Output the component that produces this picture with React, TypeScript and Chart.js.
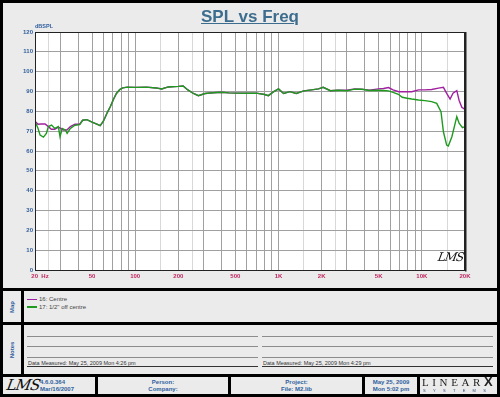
import React, { useEffect, useRef } from "react";
import { Chart, registerables } from "chart.js";
Chart.register(...registerables);

const FONT = 'Arial, "Liberation Sans", sans-serif';

// Series "16: Centre"
const centreHz = [20, 21, 22, 23.5, 24.8, 26, 27.5, 29.1, 30, 31.5, 33.4, 35.3, 38, 41, 43, 46, 50, 54, 57, 60, 64, 67, 71, 74, 78, 82, 88, 100, 120, 140, 153, 170, 200, 216, 233, 255, 276, 307, 350, 400, 450, 500, 600, 700, 800, 850, 920, 1000, 1085, 1200, 1330, 1500, 1700, 1900, 2050, 2300, 2600, 3000, 3400, 3800, 4300, 4980, 5400, 5850, 6300, 6900, 7500, 8500, 9500, 10500, 11700, 13050, 14140, 14900, 15740, 16500, 17530, 18200, 19000, 20000];
const centreDb = [75, 73.5, 73.6, 73.6, 72.3, 71, 71, 72, 71.5, 70.6, 70.6, 72.3, 73.5, 73.5, 75.5, 75.8, 74.6, 73.6, 72.8, 75, 79.5, 82.3, 86.5, 89, 91, 91.8, 92.2, 92.1, 92.2, 91.8, 91.3, 92.3, 92.6, 92.8, 90.8, 89, 87.9, 89, 89.4, 89.6, 89.3, 89.2, 89.1, 89.2, 88.5, 87.9, 89.8, 91.3, 89, 89.9, 89, 90.3, 90.8, 91.3, 92.1, 90.4, 90.6, 90.6, 91.3, 91.2, 90.7, 91.3, 91.5, 92, 90.8, 89.9, 89.9, 89.9, 90.8, 90.8, 91, 91.7, 92.1, 89.1, 86.2, 89.1, 90.4, 85.5, 82, 81];

// Series "17: 1/2" off centre"
const offHz = [20, 21, 21.7, 22.9, 24, 24.8, 26.1, 27.5, 29.1, 29.9, 31, 32.6, 33.5, 35.3, 38, 41, 43, 46, 50, 54, 57, 60, 64, 67, 71, 74, 78, 82, 88, 100, 120, 140, 153, 170, 200, 216, 233, 255, 276, 307, 350, 400, 450, 500, 600, 700, 800, 850, 920, 1000, 1085, 1200, 1330, 1500, 1700, 1900, 2050, 2300, 2600, 3000, 3400, 3800, 4300, 4980, 5400, 5850, 6300, 6860, 7300, 7900, 8500, 9460, 10500, 11700, 12700, 13600, 14140, 14900, 15300, 16200, 17530, 18200, 19200, 20000];
const offDb = [75, 71.4, 68, 67, 68.9, 72.3, 73.1, 71.4, 72.3, 67.2, 71.4, 70.6, 68.9, 71.4, 73, 73.3, 75.5, 75.8, 74.6, 73.6, 72.8, 75, 79.5, 82.3, 86.5, 89, 91, 91.8, 92.2, 92.1, 92.2, 91.8, 91.3, 92.3, 92.6, 92.8, 90.8, 89, 87.9, 89, 89.4, 89.6, 89.3, 89.2, 89.1, 89.2, 88.5, 87.9, 89.8, 91.3, 89, 89.9, 89, 90.3, 90.8, 91.3, 92.1, 90.4, 90.6, 90.4, 91.2, 91.1, 90.5, 90.6, 90.5, 90.3, 89.6, 88.6, 87.1, 86.6, 86.2, 85.7, 85.4, 84.9, 84, 79.8, 69.7, 63, 62.5, 67.2, 77.3, 74, 71.8, 72.3];

const xDecades = [10, 100, 1000, 10000];
const xMultiples = [1, 1.5, 2, 2.5, 3, 4, 5, 6, 7, 8, 9];
const xLabelValues = [20, 50, 100, 200, 500, 1000, 2000, 5000, 10000, 20000];
const xLabelTexts = ["      20  Hz", "50", "100", "200", "500", "1K", "2K", "5K", "10K", "20K"];
const yMin = 0;
const yMax = 120;
const yStep = 5;

const seriesNames = ["16: Centre", '17: 1/2" off centre'];
const seriesColors = ["#a020a0", "#1f9a1f"];

const xGridValues: number[] = [];
xDecades.forEach((d) => xMultiples.forEach((m) => {
  const v = d * m;
  if (v >= 20 && v <= 20000) xGridValues.push(v);
}));

const framePlugin = {
  id: "frame",
  beforeDraw(chart: any) {
    const { ctx, chartArea: a } = chart;
    ctx.save();
    ctx.fillStyle = "#ffffff";
    ctx.fillRect(a.left, a.top, a.right - a.left, a.bottom - a.top);
    ctx.restore();
  },
  afterDraw(chart: any) {
    const { ctx, chartArea: a } = chart;
    ctx.save();
    ctx.strokeStyle = "#222";
    ctx.lineWidth = 1;
    ctx.strokeRect(a.left + 0.5, a.top + 0.5, a.right - a.left - 1, a.bottom - a.top);
    ctx.fillStyle = "#222";
    ctx.fillRect(a.right, a.top, 1.5, a.bottom - a.top + 1.5);
    ctx.restore();
  },
};

const Small = (p: any) => <div style={{ position: "absolute", whiteSpace: "nowrap", fontSize: 6, lineHeight: "7px", ...p.style }}>{p.children}</div>;

export default function App() {
  const canvasRef = useRef<HTMLCanvasElement>(null);
  useEffect(() => {
    document.body.style.margin = "0";
    const chart = new Chart(canvasRef.current!, {
      type: "line",
      data: {
        datasets: [
          {
            label: seriesNames[0],
            data: centreHz.map((f, i) => ({ x: f, y: centreDb[i] })),
            borderColor: seriesColors[0],
            borderWidth: 1.4,
            pointRadius: 0,
            tension: 0,
            fill: false,
            order: 2,
          },
          {
            label: seriesNames[1],
            data: offHz.map((f, i) => ({ x: f, y: offDb[i] })),
            borderColor: seriesColors[1],
            borderWidth: 1.4,
            pointRadius: 0,
            tension: 0,
            fill: false,
            order: 1,
          },
        ],
      },
      options: {
        responsive: false,
        animation: false,
        events: [],
        layout: { padding: { left: 0, top: 32, right: 35, bottom: 4 } },
        plugins: { legend: { display: false }, tooltip: { enabled: false } },
        scales: {
          x: {
            type: "logarithmic",
            min: 20,
            max: 20000,
            afterBuildTicks: (s: any) => {
              s.ticks = xGridValues.map((v) => ({ value: v }));
            },
            afterFit: (s: any) => {
              s.height = 16;
            },
            ticks: {
              autoSkip: false,
              maxRotation: 0,
              minRotation: 0,
              padding: 3,
              color: "#c2245e",
              font: { family: FONT, size: 6, weight: "bold" },
              callback: (v: any) => {
                const i = xLabelValues.indexOf(Number(v));
                return i >= 0 ? xLabelTexts[i] : "";
              },
            },
            grid: {
              drawTicks: false,
              lineWidth: 1,
              color: (c: any) => {
                const v = c.tick ? c.tick.value : 0;
                const m = v / Math.pow(10, Math.floor(Math.log10(v) + 1e-9));
                return Math.abs(m - 1.5) < 1e-6 || Math.abs(m - 2.5) < 1e-6 ? "#d8d8d8" : "#a0a0a0";
              },
            },
            border: { display: true, color: "#222", width: 1 },
          },
          y: {
            type: "linear",
            min: yMin,
            max: yMax,
            afterFit: (s: any) => {
              s.width = 35;
            },
            ticks: {
              stepSize: yStep,
              padding: 2,
              color: "#2f5f9e",
              font: { family: FONT, size: 6, weight: "bold" },
              callback: (v: any) => (Number(v) % 10 === 0 ? String(v) : ""),
            },
            grid: {
              drawTicks: false,
              lineWidth: 1,
              color: (c: any) => (c.tick && c.tick.value % 10 === 0 ? "#a0a0a0" : "#e2e2e2"),
            },
            border: { display: true, color: "#222", width: 1 },
          },
        },
      },
      plugins: [framePlugin],
    } as any);
    return () => chart.destroy();
  }, []);

  const panel = (left: number, top: number, width: number, height: number, children?: any) => (
    <div style={{ position: "absolute", left, top, width, height, background: "#ebebeb", overflow: "hidden" }}>{children}</div>
  );
  const blue = "#2f5f9e";
  const vLabel = (text: string, h: number) => (
    <div style={{ position: "absolute", left: 0, top: 0, width: 18, height: h, display: "flex", alignItems: "center", justifyContent: "center" }}>
      <div style={{ transform: "rotate(-90deg)", fontSize: 6, fontWeight: "bold", color: blue, whiteSpace: "nowrap" }}>{text}</div>
    </div>
  );
  const noteCol = (left: number, width: number, text: string) => (
    <>
      <div style={{ position: "absolute", left, top: 11, width, height: 1, background: "#8c8c8c" }} />
      <div style={{ position: "absolute", left, top: 21, width, height: 1, background: "#8c8c8c" }} />
      <div style={{ position: "absolute", left, top: 32, width, height: 1, background: "#8c8c8c" }} />
      <div style={{ position: "absolute", left, top: 41, width, height: 1, background: "#333" }} />
      <Small style={{ left: left + 1, top: 35, fontSize: 5.5, lineHeight: "6px", color: "#333", textDecoration: "underline" }}>{text}</Small>
    </>
  );
  const centred = (w: number, a: string, b: string) => (
    <>
      <Small style={{ left: 0, width: w, top: 2, textAlign: "center", fontWeight: "bold", color: blue }}>{a}</Small>
      <Small style={{ left: 0, width: w, top: 9, textAlign: "center", fontWeight: "bold", color: blue }}>{b}</Small>
    </>
  );

  return (
    <div style={{ position: "fixed", left: 0, top: 0, width: 500, height: 397, background: "#000", fontFamily: FONT, overflow: "hidden" }}>
      {panel(3, 3, 494, 285)}
      <canvas ref={canvasRef} width={500} height={290} style={{ position: "absolute", left: 0, top: 0, width: 500, height: 290 }} />
      <div style={{ position: "absolute", left: 0, top: 7, width: 500, textAlign: "center", fontSize: 17, fontWeight: "bold", color: "#3d6d8e", textDecoration: "underline", lineHeight: "20px" }}>SPL vs Freq</div>
      <Small style={{ left: 35, top: 23, fontSize: 5.5, fontWeight: "bold", color: blue }}>dBSPL</Small>
      <div style={{ position: "absolute", left: 438, top: 250, fontSize: 12, fontStyle: "italic", fontFamily: '"DejaVu Serif", serif', color: "#111", transform: "skewX(-10deg)", letterSpacing: -1 }}>LMS</div>

      {panel(3, 291, 18, 31, vLabel("Map", 31))}
      {panel(24, 291, 473, 31, (
        <>
          <div style={{ position: "absolute", left: 3, top: 7.5, width: 10, height: 1.5, background: seriesColors[0] }} />
          <Small style={{ left: 15, top: 5, color: "#444" }}>{seriesNames[0]}</Small>
          <div style={{ position: "absolute", left: 3, top: 15, width: 10, height: 1.5, background: seriesColors[1] }} />
          <Small style={{ left: 15, top: 12.5, color: "#444" }}>{seriesNames[1]}</Small>
        </>
      ))}

      {panel(3, 325, 18, 49, vLabel("Notes", 49))}
      {panel(24, 325, 473, 49, (
        <>
          {noteCol(3, 231, "Data Measured: May 25, 2009  Mon  4:26 pm")}
          {noteCol(238, 231, "Data Measured: May 25, 2009  Mon  4:29 pm")}
        </>
      ))}

      {panel(3, 377, 92, 17, (
        <>
          <div style={{ position: "absolute", left: 4, top: -1, fontSize: 15, fontStyle: "italic", fontFamily: '"DejaVu Serif", serif', color: "#111", transform: "skewX(-10deg)", letterSpacing: -1 }}>LMS</div>
          <Small style={{ left: 37, top: 2, fontWeight: "bold", color: blue }}>4.6.0.364</Small>
          <Small style={{ left: 37, top: 9, fontWeight: "bold", color: blue }}>Mar/16/2007</Small>
        </>
      ))}
      {panel(98, 377, 130, 17, centred(130, "Person:", "Company:"))}
      {panel(231, 377, 131, 17, centred(131, "Project:", "File: M2.lib"))}
      {panel(365, 377, 52, 17, centred(52, "May 25, 2009", "Mon  5:02 pm"))}
      {panel(420, 377, 77, 17, (
        <>
          <div style={{ position: "absolute", left: 2, top: -1, fontSize: 11, fontFamily: '"Liberation Serif", "DejaVu Serif", serif', color: "#222", letterSpacing: 3.6, lineHeight: "12px", whiteSpace: "nowrap" }}>
            LINEAR<span style={{ fontWeight: 900, fontFamily: FONT, fontSize: 13, letterSpacing: 0 }}>X</span>
          </div>
          <Small style={{ left: 3, top: 11, fontSize: 4, lineHeight: "5px", color: "#2f4f7e", letterSpacing: 7.3 }}>SYSTEMS</Small>
        </>
      ))}
    </div>
  );
}
